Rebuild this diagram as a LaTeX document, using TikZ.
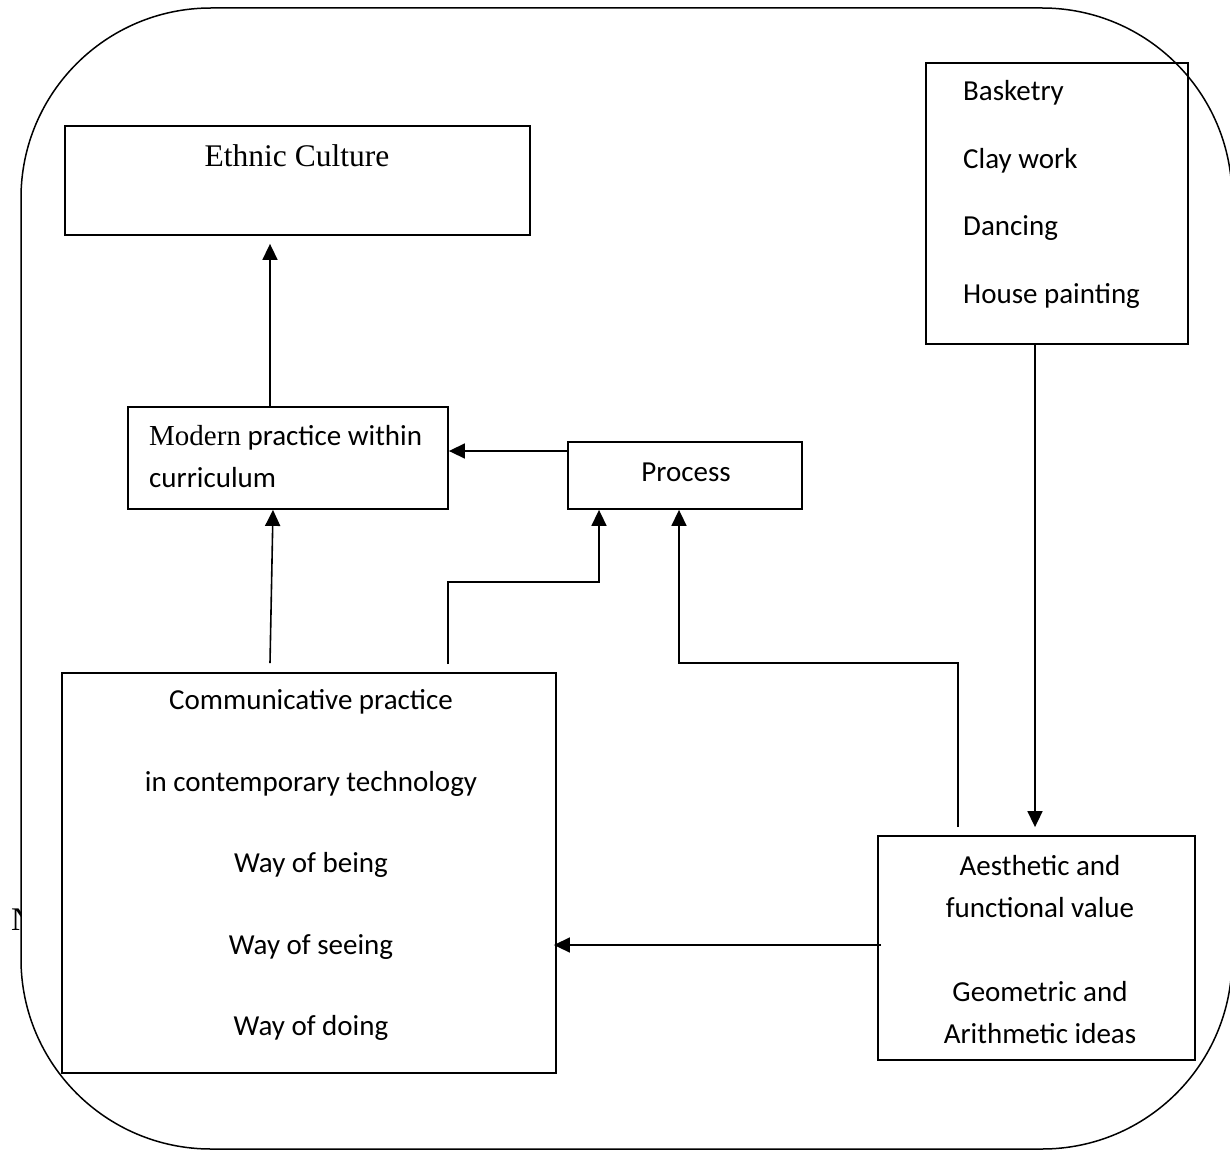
\documentclass[tikz,border=0pt]{standalone}
\usepackage{fontspec}
\setmainfont{Carlito}
\newfontfamily\tnr{Liberation Serif}
\usetikzlibrary{arrows.meta}

\tikzset{
  box/.style={draw, line width=1.8pt, inner sep=0pt},
  txt/.style={inner sep=0pt, font=\fontsize{29}{35}\selectfont},
  arr/.style={line width=1.6pt, -{Triangle[length=16pt,width=15pt]}}
}

\begin{document}
\begin{tikzpicture}[x=1pt,y=-1pt]
    \useasboundingbox (0,0) rectangle (1230,1150);
    \node[txt, anchor=west, font=\tnr\fontsize{33}{40}\selectfont] (cut) at (11,920) {N};
    \draw[line width=1.5pt, fill=white, rounded corners=190pt] (21,8) rectangle (1232,1149);

    \node[box, minimum width=465pt, minimum height=109pt] (ethnic) at (297.5,180.5) {};
    \node[txt, font=\tnr\fontsize{31.5}{38}\selectfont] (ethnictxt) at (297,156) {Ethnic Culture};

    \node[box, minimum width=320pt, minimum height=102pt] (modern) at (288,458) {};
    \node[txt, anchor=west, align=left, font=\fontsize{29}{42}\selectfont] (moderntxt) at (149,457)
        {{\tnr Modern} practice within\\curriculum};

    \node[box, minimum width=234pt, minimum height=67pt] (process) at (685,475.5) {};
    \node[txt] (processtxt) at (686,472) {Process};

    \node[box, minimum width=262pt, minimum height=281pt] (craft) at (1057,203.5) {};
    \node[txt, anchor=west, align=left, font=\fontsize{29}{67.7}\selectfont] (crafttxt) at (963,194.5)
        {Basketry\\Clay work\\Dancing\\House painting};

    \node[box, minimum width=494pt, minimum height=400pt] (comm) at (309,873) {};
    \node[txt, align=center, font=\fontsize{29}{81.5}\selectfont] (commtxt) at (311,865)
        {Communicative practice\\in contemporary technology\\Way of being\\Way of seeing\\Way of doing};

    \node[box, minimum width=317pt, minimum height=224pt] (value) at (1036.5,948) {};
    \node[txt, align=center, font=\fontsize{29}{42}\selectfont] (valuetxt) at (1040,950)
        {Aesthetic and\\functional value\\\mbox{}\\Geometric and\\Arithmetic ideas};

    % connectors
    \draw[arr] ([xshift=-18pt]modern.north) -- ([xshift=-27.5pt,yshift=-8pt]ethnic.south);
    \draw[arr] ([xshift=-39pt,yshift=9pt]comm.north) -- ([xshift=-15pt]modern.south);
    \coordinate (p1) at ([yshift=24.5pt]process.west);
    \draw[arr] (p1) -- (p1 -| modern.east);
    \draw[arr] ([xshift=139pt,yshift=8pt]comm.north) -- ++(0,-82) -| ([xshift=-86pt]process.south);
    \draw[arr] ([xshift=-78.5pt,yshift=8pt]value.north) -- ++(0,-164) -| ([xshift=-6pt]process.south);
    \draw[arr] ([xshift=-22pt]craft.south) -- ([xshift=-1.5pt,yshift=8pt]value.north);
    \coordinate (v1) at ([xshift=4pt,yshift=3pt]value.west);
    \draw[arr] (v1) -- ([xshift=-3pt]v1 -| comm.east);
\end{tikzpicture}
\end{document}
